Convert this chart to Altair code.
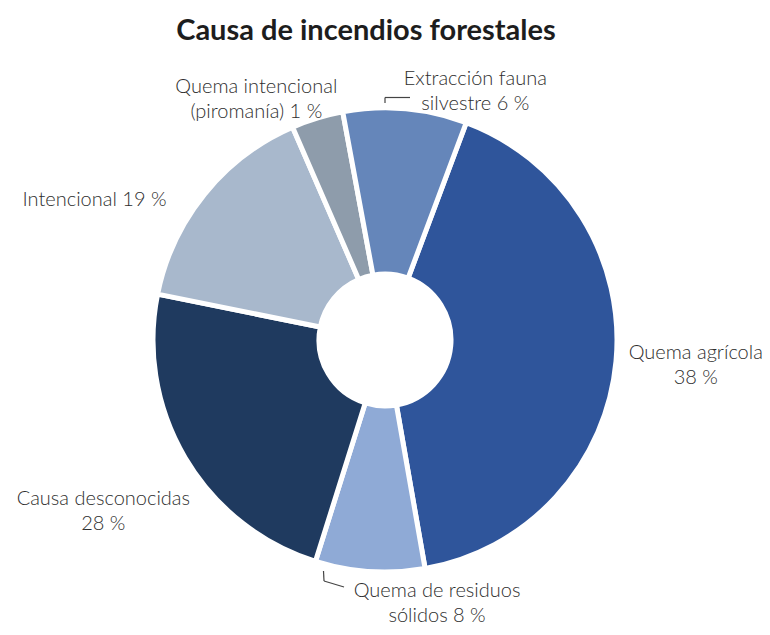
import math
import altair as alt
import pandas as pd

# ---- data ----
causes = [
    "Quema agrícola",
    "Quema de residuos sólidos",
    "Causa desconocidas",
    "Intencional",
    "Quema intencional (piromanía)",
    "Extracción fauna silvestre",
]
# slice sizes as drawn (the printed labels differ from the drawn angles)
shares = [41.5, 7.6, 23.3, 15.3, 3.6, 8.6]
labels = [
    "Quema agrícola\n38 %",
    "Quema de residuos\nsólidos 8 %",
    "Causa desconocidas\n28 %",
    "Intencional 19 %",
    "Quema intencional\n(piromanía) 1 %",
    "Extracción fauna\nsilvestre 6 %",
]
colors = ["#2F559B", "#8FAAD6", "#1F3A5F", "#A8B8CC", "#8E9CAB", "#6586BA"]

df = pd.DataFrame({"cause": causes, "share": shares, "label": labels, "order": list(range(len(causes)))})

total = sum(shares)
start = math.radians(20.5)
theta_scale = alt.Scale(domain=[0, total], range=[start, start + 2 * math.pi])
color_scale = alt.Scale(domain=causes, range=colors)

base = alt.Chart(df)

arcs = base.mark_arc(innerRadius=66, outerRadius=232, stroke="white", strokeWidth=5).encode(
    theta=alt.Theta("share:Q", stack=True, scale=theta_scale),
    color=alt.Color("cause:N", scale=color_scale, legend=None),
    order=alt.Order("order:Q"),
)

# label offsets (pixels) from the slice mid-angle point at radius 290
label_offsets = [(22, -14), (71, -38), (-32, 11), (-65, 42), (-44, 24), (65, 28)]

layers = [arcs]
for cause, (dx, dy) in zip(causes, label_offsets):
    layers.append(
        base.transform_window(cum="sum(share)", sort=[alt.SortField("order")])
        .transform_calculate(mid="datum.cum - datum.share / 2")
        .transform_filter(alt.datum.cause == cause)
        .mark_text(
            radius=290, dx=dx, dy=dy, align="center", baseline="middle",
            lineBreak="\n", lineHeight=25, font="Lato", fontSize=20,
            fontWeight=300, color="#2e2e2e",
        )
        .encode(
            theta=alt.Theta("mid:Q", stack=None, scale=theta_scale),
            text="label:N",
        )
    )

# leader lines
ext = base.transform_filter(alt.datum.cause == "Extracción fauna silvestre")
res = base.transform_filter(alt.datum.cause == "Quema de residuos sólidos")
rule_style = dict(color="#444444", strokeWidth=1.2)
layers += [
    ext.mark_rule(**rule_style).encode(x=alt.value(377), x2=alt.value(402), y=alt.value(39.5), y2=alt.value(39.5)),
    ext.mark_rule(**rule_style).encode(x=alt.value(377), x2=alt.value(377), y=alt.value(39.5), y2=alt.value(45)),
    res.mark_rule(**rule_style).encode(x=alt.value(315.5), x2=alt.value(316), y=alt.value(513), y2=alt.value(523)),
    res.mark_rule(**rule_style).encode(x=alt.value(316), x2=alt.value(336), y=alt.value(523), y2=alt.value(529)),
]

chart = (
    alt.layer(*layers)
    .properties(
        width=754,
        height=564,
        padding={"left": 0, "right": 0, "top": 50, "bottom": 5},
        autosize=alt.AutoSizeParams(type="none"),
        title=alt.TitleParams(
            "Causa de incendios forestales",
            font="Lato", fontSize=29, fontWeight="bold", color="#1d1d1d",
            anchor="middle", frame="group", dx=-19, offset=12,
        ),
    )
    .configure_view(stroke=None)
)

chart.save("out.html", embed_options={"renderer": "svg", "actions": False})
